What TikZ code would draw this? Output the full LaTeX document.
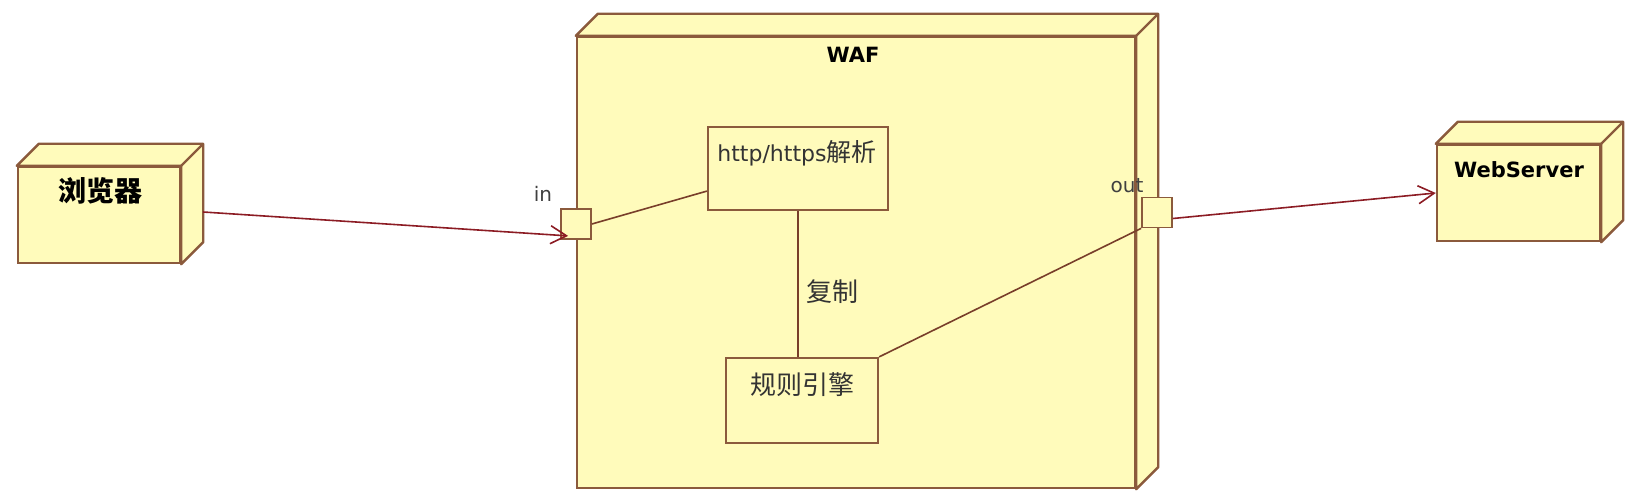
\documentclass[tikz,border=0pt]{standalone}
\usepackage{fontspec}
\setmainfont{DejaVu Sans}
\newfontfamily\cjk{Noto Sans CJK SC}
\usetikzlibrary{arrows.meta,positioning,calc}
\definecolor{nodefill}{RGB}{255,251,187}
\definecolor{nodeline}{RGB}{139,90,60}
\definecolor{linkbrown}{RGB}{120,62,42}
\definecolor{flowred}{RGB}{140,28,36}
% top and side faces of a UML node
\newcommand{\umlcube}[1]{%
  \draw[face] (#1.north west) -- ($(#1.north west)+(22,-22)$) -| ($(#1.south east)+(22,-22)$) -- (#1.south east) -- (#1.north east) -- cycle;
  \draw[face] (#1.north east) -- ($(#1.north east)+(22,-22)$);}

\begin{document}
\begin{tikzpicture}[x=0.5pt,y=-0.5pt,>={Straight Barb[length=8pt,width=9pt]},every node/.style={inner sep=0pt},
cube/.style={draw=nodeline,fill=nodefill,line width=1.2pt},
face/.style={draw=nodeline,fill=nodefill,line width=1.2pt,line join=round},
box/.style={draw=nodeline,fill=nodefill,line width=1.1pt},
port/.style={draw=nodeline,fill=nodefill,line width=0.9pt,minimum size=15pt},
title/.style={font=\bfseries\fontsize{10.5}{12}\selectfont},
cjktitle/.style={font=\cjk\bfseries\fontsize{14}{16}\selectfont},
txt/.style={font=\fontsize{10}{12}\selectfont,text=black!75},
cjktxt/.style={font=\cjk\fontsize{13}{15}\selectfont,text=black!80},
link/.style={draw=linkbrown,line width=0.8pt},
flow/.style={draw=flowred,line width=0.8pt}]
\useasboundingbox (0,0) rectangle (1636,502);

\node[cube,minimum width=81pt,minimum height=48pt] (browser) at (99,215) {};
\umlcube{browser}
\node[cjktitle] (browsertxt) at (100,191) {浏览器};

\node[cube,minimum width=279pt,minimum height=225.5pt] (waf) at (856,262.5) {};
\umlcube{waf}
\node[title] (waftxt) at (853,55) {WAF};

\node[cube,minimum width=81.5pt,minimum height=48pt] (webserver) at (1518.5,193) {};
\umlcube{webserver}
\node[title] (webservertxt) at (1519,170) {WebServer};

\node[box,minimum width=90pt,minimum height=41.5pt] (http) at (798,168.5) {};
\node (httptxt) at (797,153) {{\fontsize{11}{13}\selectfont\color{black!80}http/https}{\cjk\fontsize{12.5}{14}\selectfont\color{black!80}解析}};
\node[box,minimum width=76pt,minimum height=42.5pt] (rule) at (802,400.5) {};
\node[cjktxt] (ruletxt) at (802,385) {规则引擎};

\node[port] (inport) at (576,224) {};
\node[port] (outport) at (1157,212.5) {};
\node[txt] (inlbl) at (543,194) {in};
\node[txt] (outlbl) at (1127,186) {out};

\draw[flow,->] ([xshift=11pt,yshift=1.5pt]browser.east) -- ([xshift=4pt,yshift=2pt]inport.south west);
\draw[link] (inport.east) -- ([yshift=10pt]http.south west);
\draw[link] (http.south) -- (http.south |- rule.north) node[cjktxt,pos=0.55,right=4pt] (copytxt) {复制};
\draw[link] (rule.north east) -- (outport.south west);
\draw[flow,->] ([yshift=-3pt]outport.east) -- (webserver.west);
\end{tikzpicture}
\end{document}
